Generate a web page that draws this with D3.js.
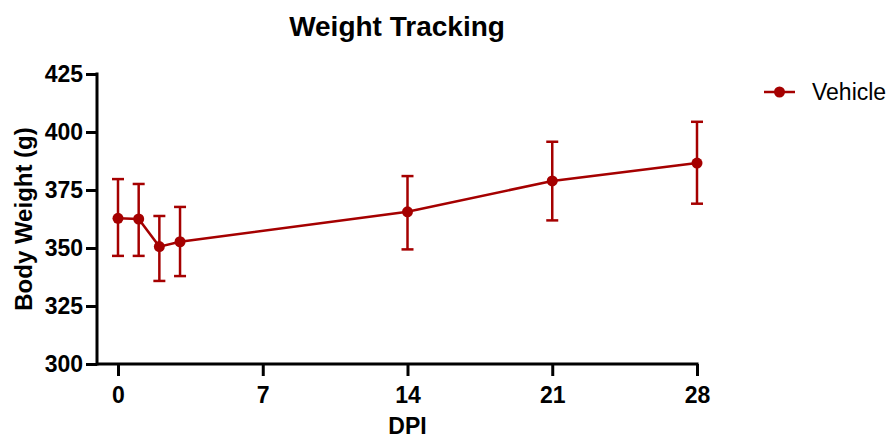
<!DOCTYPE html>
<html>
<head>
<meta charset="utf-8">
<script src="https://cdn.jsdelivr.net/npm/d3@7"></script>
<style>
  body { margin: 0; background: #fff; }
  text { font-family: "Liberation Sans", Arial, sans-serif; }
</style>
</head>
<body>
<script>
const width = 892;
const height = 438;

// data
const days = [0, 1, 2, 3, 14, 21, 28];
const means = [362.8, 362.5, 350.6, 352.7, 365.6, 378.9, 386.6];
const upper = [379.7, 377.6, 363.8, 367.7, 381.0, 395.8, 404.4];
const lower = [346.6, 346.6, 335.8, 337.9, 349.4, 361.9, 369.1];
const xTicks = [0, 7, 14, 21, 28];
const yTicks = [300, 325, 350, 375, 400, 425];
const seriesName = 'Vehicle';

const red = '#a50000';

const svg = d3.select('body').append('svg').attr('width', width).attr('height', height);

const x = d3.scaleLinear().domain([0, 28]).range([118, 697]);
const y = d3.scaleLinear().domain([300, 425]).range([364, 74]);
const axisLeft = 97;

// y axis
const gy = svg.append('g')
  .attr('transform', `translate(${axisLeft},0)`)
  .call(d3.axisLeft(y).tickValues(yTicks).tickSize(11).tickPadding(3));

// x axis
const gx = svg.append('g')
  .attr('transform', `translate(0,${y(300)})`)
  .call(d3.axisBottom(x).tickValues(xTicks).tickSize(12).tickPadding(11));

[gx, gy].forEach(g => {
  g.select('.domain').remove();
  g.selectAll('.tick line').attr('stroke', '#000').attr('stroke-width', 3);
  g.selectAll('.tick text')
    .attr('fill', '#000')
    .style('font-size', '23px')
    .style('font-weight', 'bold')
    .style('font-family', '"Liberation Sans", Arial, sans-serif');
});

// axis lines drawn by hand so they meet in the corner
svg.append('line')
  .attr('x1', axisLeft).attr('x2', axisLeft)
  .attr('y1', y(425) - 1.5).attr('y2', y(300) + 1.5)
  .attr('stroke', '#000').attr('stroke-width', 3);
svg.append('line')
  .attr('x1', axisLeft).attr('x2', x(28) + 1.5)
  .attr('y1', y(300)).attr('y2', y(300))
  .attr('stroke', '#000').attr('stroke-width', 3);

const data = days.map((d, i) => ({ day: d, mean: means[i], hi: upper[i], lo: lower[i] }));

// error bars
const eb = svg.append('g').attr('stroke', red).attr('stroke-width', 2.5);
eb.selectAll('line.v').data(data).join('line')
  .attr('class', 'v')
  .attr('x1', d => x(d.day)).attr('x2', d => x(d.day))
  .attr('y1', d => y(d.hi)).attr('y2', d => y(d.lo));
eb.selectAll('line.t').data(data).join('line')
  .attr('class', 't')
  .attr('x1', d => x(d.day) - 6).attr('x2', d => x(d.day) + 6)
  .attr('y1', d => y(d.hi)).attr('y2', d => y(d.hi));
eb.selectAll('line.b').data(data).join('line')
  .attr('class', 'b')
  .attr('x1', d => x(d.day) - 6).attr('x2', d => x(d.day) + 6)
  .attr('y1', d => y(d.lo)).attr('y2', d => y(d.lo));

// mean line
svg.append('path')
  .datum(data)
  .attr('fill', 'none')
  .attr('stroke', red)
  .attr('stroke-width', 2.5)
  .attr('d', d3.line().x(d => x(d.day)).y(d => y(d.mean)));

svg.append('g').selectAll('circle').data(data).join('circle')
  .attr('cx', d => x(d.day)).attr('cy', d => y(d.mean))
  .attr('r', 5.5).attr('fill', red);

// title
svg.append('text')
  .attr('x', 397).attr('y', 36)
  .attr('text-anchor', 'middle')
  .style('font-size', '28px').style('font-weight', 'bold')
  .text('Weight Tracking');

// axis titles
svg.append('text')
  .attr('x', x(14)).attr('y', 434)
  .attr('text-anchor', 'middle')
  .style('font-size', '23px').style('font-weight', 'bold')
  .text('DPI');

svg.append('text')
  .attr('transform', `translate(32,${(y(300) + y(425)) / 2}) rotate(-90)`)
  .attr('text-anchor', 'middle')
  .style('font-size', '24px').style('font-weight', 'bold')
  .text('Body Weight (g)');

// legend
const lg = svg.append('g').attr('transform', 'translate(764,92)');
lg.append('line').attr('x1', 0).attr('x2', 31).attr('y1', 0).attr('y2', 0)
  .attr('stroke', red).attr('stroke-width', 2.5);
lg.append('circle').attr('cx', 15.5).attr('cy', 0).attr('r', 5.5).attr('fill', red);
lg.append('text').attr('x', 48).attr('y', 8)
  .style('font-size', '23px')
  .text(seriesName);
</script>
</body>
</html>
